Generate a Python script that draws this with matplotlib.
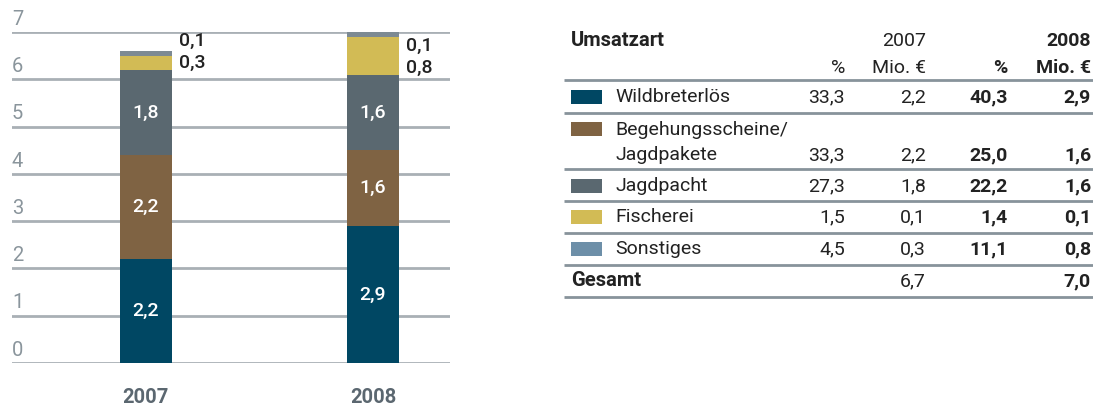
import matplotlib
matplotlib.use('Agg')
import matplotlib.pyplot as plt
from matplotlib.patches import Rectangle

plt.rcParams['font.family'] = ['Roboto', 'DejaVu Sans']

# data
years = ['2007', '2008']
categories = ['Wildbreterlös', 'Begehungsscheine/\nJagdpakete', 'Jagdpacht',
              'Fischerei', 'Sonstiges']
pct_2007 = [33.3, 33.3, 27.3, 1.5, 4.5]
mio_2007 = [2.2, 2.2, 1.8, 0.1, 0.3]
pct_2008 = [40.3, 25.0, 22.2, 1.4, 11.1]
mio_2008 = [2.9, 1.6, 1.6, 0.1, 0.8]
total_2007 = 6.7
total_2008 = 7.0

legend_colors = ['#004763', '#7f6343', '#5a6870', '#d2bb55', '#6d8fa8']
# stacking order in the bar chart (the chart swaps the two small ones)
bar_order = [0, 1, 2, 4, 3]
bar_colors = ['#004763', '#7f6343', '#5a6870', '#d2bb55', '#7d8a93']

grid_c = '#a9b0b5'
tick_c = '#8a959c'
year_c = '#5b6770'
txt_c = '#222222'
line_c = '#87939b'


def fmt(v):
    return f'{v:.1f}'.replace('.', ',')


W, H = 1093, 416
fig = plt.figure(figsize=(W / 100, H / 100), dpi=100)

# ---- bar chart ----
ax = fig.add_axes([12 / W, (H - 363) / H, (450 - 12) / W, 331 / H])
ax.set_xlim(0, 1)
ax.set_ylim(0, 7)
ax.axis('off')
for y in range(8):
    ax.axhline(y, color=grid_c, lw=2, zorder=1)
    ax.text(0.0, y + 0.07, str(y), color=tick_c, fontsize=14.5,
            ha='left', va='bottom')

xpos = [0.305, 0.824]
bw = 52 / 438
for i, vals in enumerate([mio_2007, mio_2008]):
    bottom = 0
    for k, idx in enumerate(bar_order):
        v = vals[idx]
        ax.bar(xpos[i], v, bw, bottom=bottom, color=bar_colors[k],
               zorder=2, linewidth=0)
        if k < 3:
            ax.text(xpos[i], bottom + v / 2, fmt(v), color='white',
                    fontsize=14, fontweight='medium', ha='center',
                    va='center', zorder=3)
        bottom += v
    # small segments labelled beside the bar
    base = sum(vals[j] for j in bar_order[:3])
    ax.annotate(fmt(vals[bar_order[3]]), (xpos[i] + bw / 2, base),
                xytext=(5, 5), textcoords='offset points', color=txt_c,
                fontsize=14, fontweight='medium', ha='left', va='center')
    ax.annotate(fmt(vals[bar_order[4]]), (xpos[i] + bw / 2, base),
                xytext=(5, 21), textcoords='offset points', color=txt_c,
                fontsize=14, fontweight='medium', ha='left', va='center')
    ax.text(xpos[i], -0.72, years[i], color=year_c, fontsize=14.5,
            fontweight='bold', ha='center', va='center')

# ---- table ----
tb = fig.add_axes([0, 0, 1, 1])
tb.set_xlim(0, W)
tb.set_ylim(H, 0)
tb.axis('off')
tb.patch.set_visible(False)

x_name, x_sw = 615, 571
x_cols = [845, 926, 1008, 1091]
fs = 14

tb.text(571, 41, 'Umsatzart', fontsize=fs + 0.5, fontweight='bold',
        color=txt_c, va='center', ha='left')
tb.text(x_cols[1], 41, '2007', fontsize=fs, color=txt_c, va='center',
        ha='right')
tb.text(x_cols[3], 41, '2008', fontsize=fs, fontweight='bold', color=txt_c,
        va='center', ha='right')
for j, lab in enumerate(['%', 'Mio. €', '%', 'Mio. €']):
    tb.text(x_cols[j], 68, lab, fontsize=fs, color=txt_c, va='center',
            ha='right', fontweight='bold' if j >= 2 else 'normal')

row_y = [97, 129, 186, 217, 249]
row_val_y = [97, 155, 186, 217, 249]
for i, name in enumerate(categories):
    tb.add_patch(Rectangle((x_sw, row_y[i] - 7), 31, 14,
                           color=legend_colors[i], lw=0))
    multi = '\n' in name
    tb.text(x_name, row_y[i] - 8 if multi else row_y[i], name, fontsize=fs,
            color=txt_c, va='top' if multi else 'center', ha='left',
            linespacing=1.5)
    vals = [pct_2007[i], mio_2007[i], pct_2008[i], mio_2008[i]]
    for j, v in enumerate(vals):
        tb.text(x_cols[j], row_val_y[i], fmt(v), fontsize=fs, color=txt_c,
                va='center', ha='right',
                fontweight='bold' if j >= 2 else 'normal')

tb.text(571, 281, 'Gesamt', fontsize=fs + 0.5, fontweight='bold',
        color=txt_c, va='center', ha='left')
tb.text(x_cols[1], 281, fmt(total_2007), fontsize=fs, color=txt_c,
        va='center', ha='right')
tb.text(x_cols[3], 281, fmt(total_2008), fontsize=fs, fontweight='bold',
        color=txt_c, va='center', ha='right')

for y in [80, 113, 169, 201, 233, 265, 297]:
    tb.plot([564, W], [y, y], color=line_c, lw=2, solid_capstyle='butt')

fig.savefig('out.png', dpi=100)
